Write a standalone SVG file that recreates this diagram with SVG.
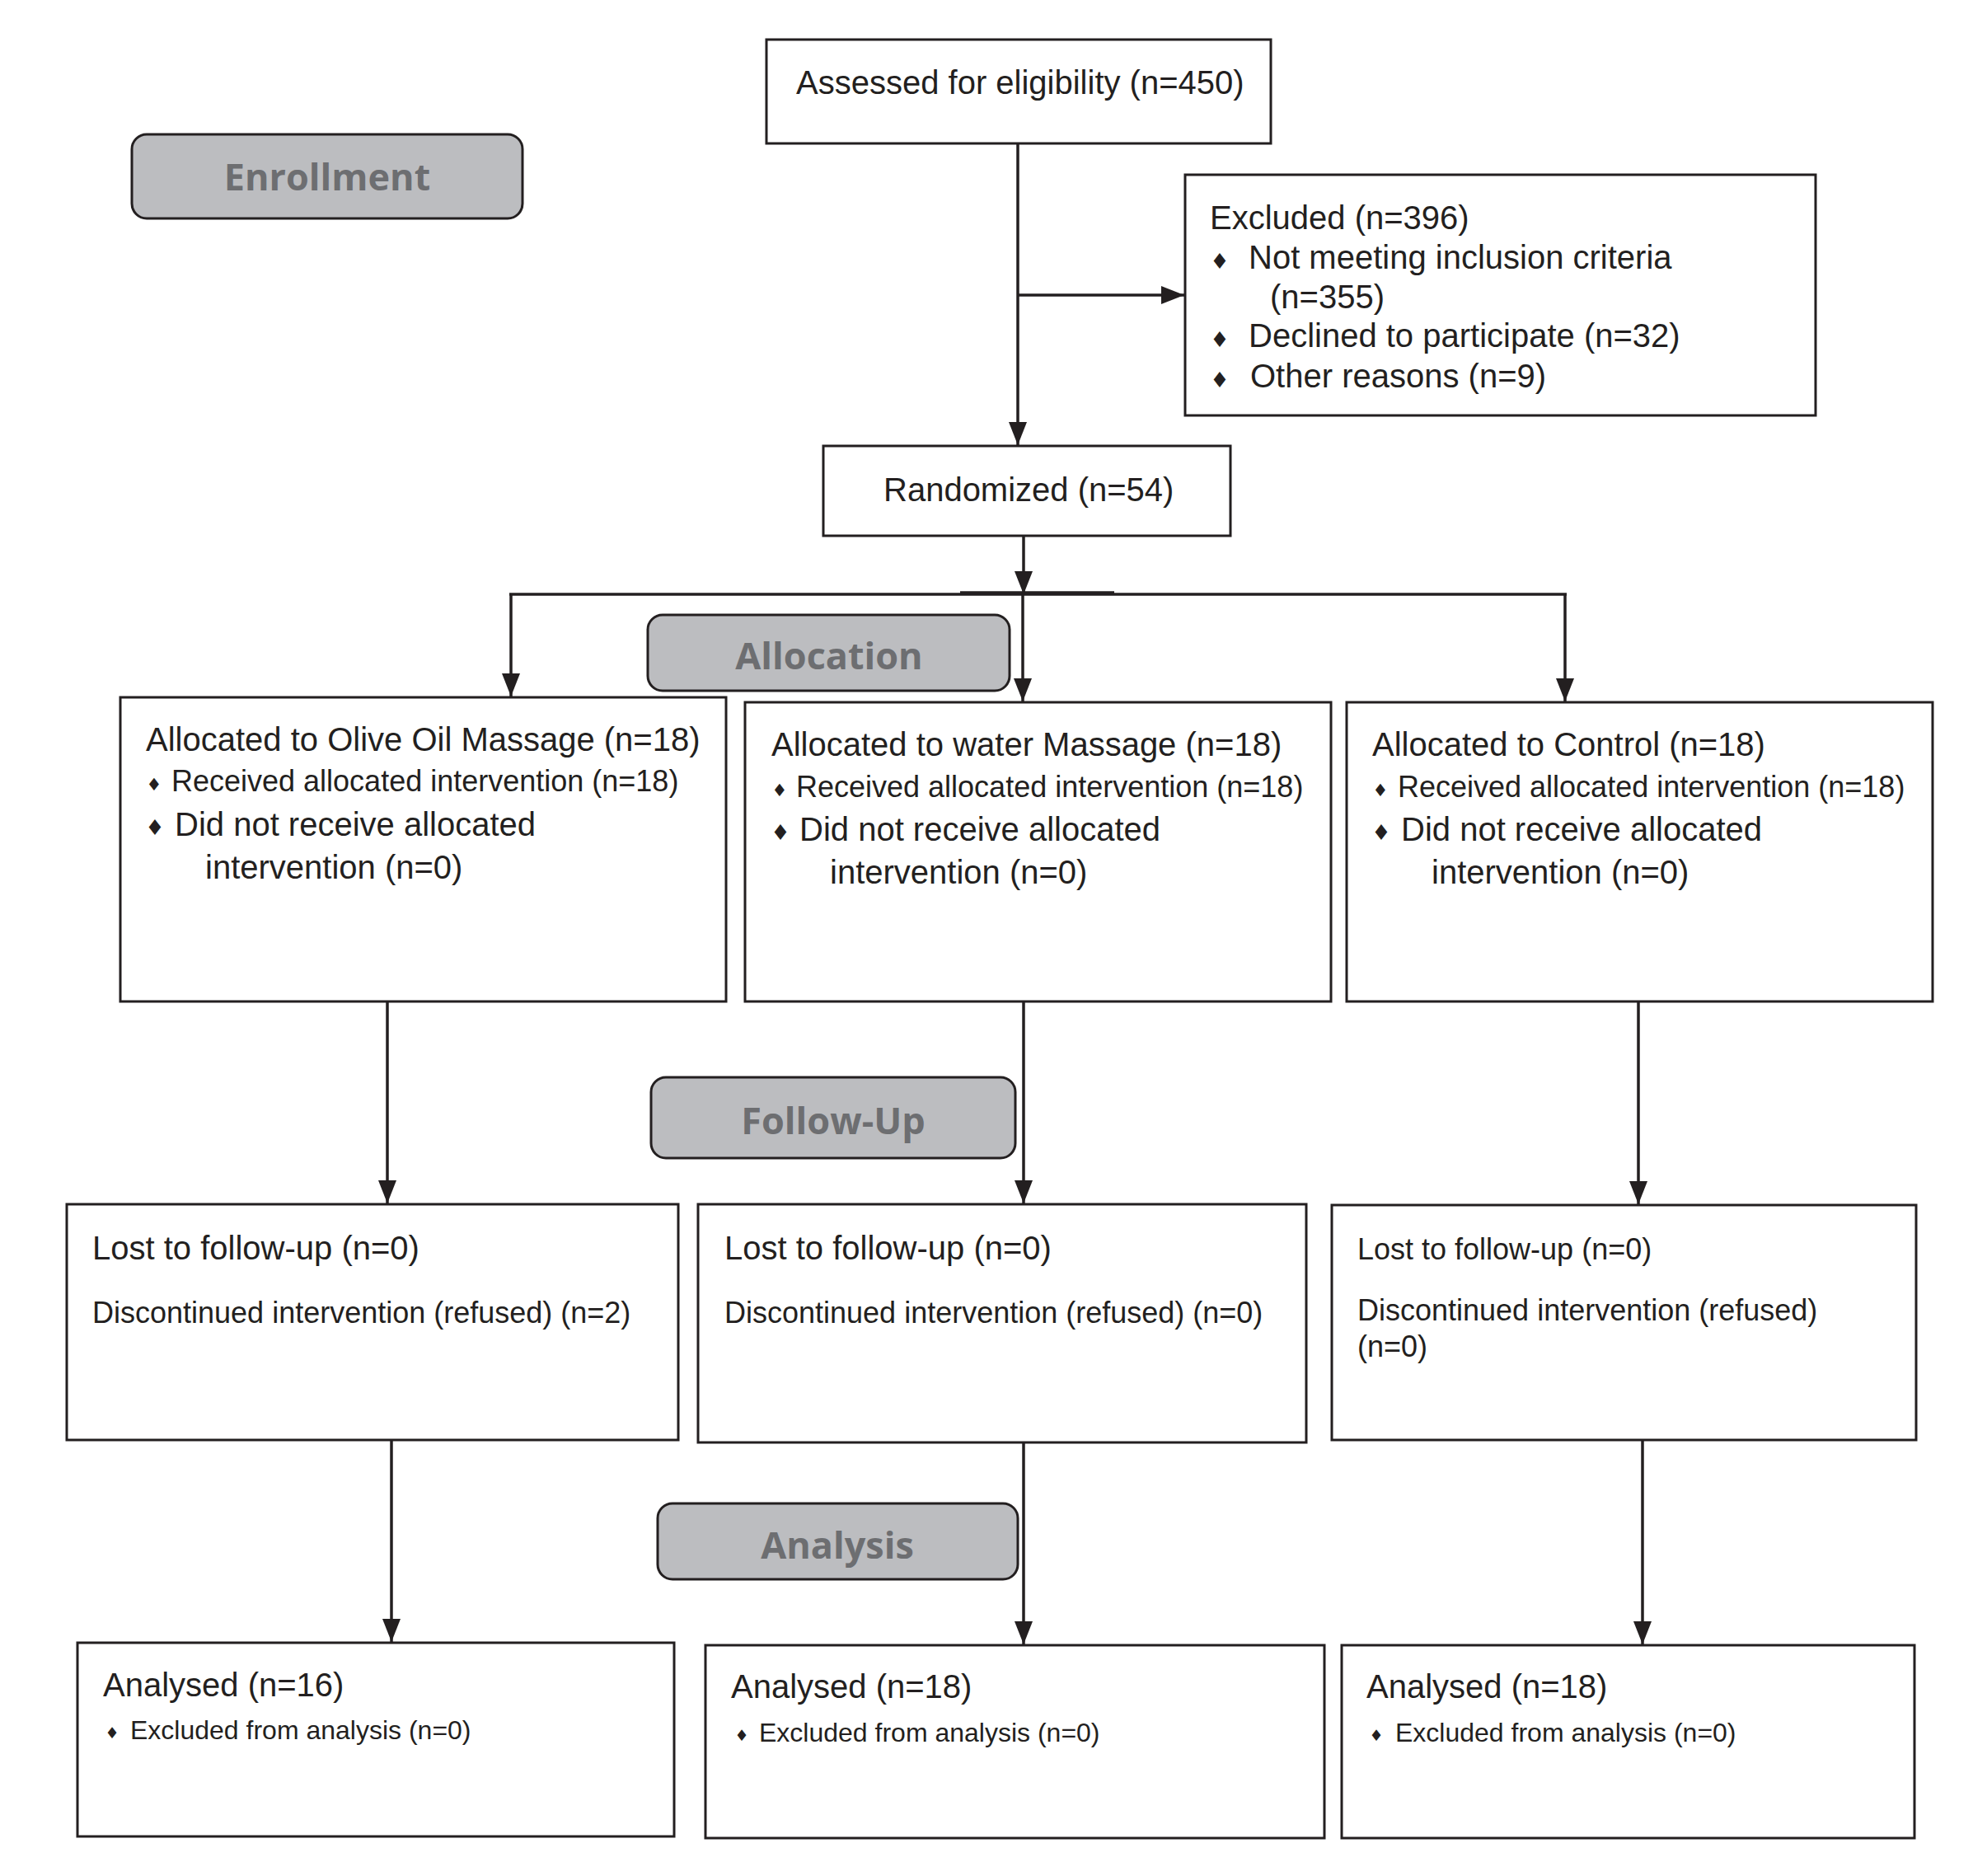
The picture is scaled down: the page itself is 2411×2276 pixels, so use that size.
<svg xmlns="http://www.w3.org/2000/svg" width="2411" height="2276" viewBox="0 0 2411 2276">
<defs>
<style>
.box{fill:#fff;stroke:#231f20;stroke-width:3}
.lbl{fill:#bcbdc0;stroke:#231f20;stroke-width:3}
.lt{font-family:"Open Sans","Noto Sans",sans-serif;font-weight:bold;font-size:45px;fill:#6d6e71;text-anchor:middle}
.t40{font-family:"Liberation Sans",Arial,sans-serif;font-size:40px;fill:#231f20}
.t36{font-family:"Liberation Sans",Arial,sans-serif;font-size:36px;fill:#231f20}
.t32{font-family:"Liberation Sans",Arial,sans-serif;font-size:32px;fill:#231f20}
.bl{font-family:"DejaVu Sans",sans-serif;fill:#231f20;text-anchor:middle}
.b1{font-size:26px}
.b2{font-size:21px}
.b3{font-size:19px}
.ln{stroke:#231f20;stroke-width:3.5;fill:none}
</style>
<marker id="ah" markerUnits="userSpaceOnUse" markerWidth="28" markerHeight="24" viewBox="0 0 28 24" refX="28" refY="11" orient="auto">
<path d="M0,0 L28,11 L0,22 Z" fill="#231f20"/>
</marker>
</defs>
<rect width="2411" height="2276" fill="#fff"/>

<g id="connectors">
<line class="ln" x1="1235" y1="174" x2="1235" y2="540" marker-end="url(#ah)"/>
<line class="ln" x1="1235" y1="358" x2="1437" y2="358" marker-end="url(#ah)"/>
<line class="ln" x1="1242" y1="650" x2="1242" y2="721" marker-end="url(#ah)"/>
<line class="ln" x1="618" y1="721" x2="1901" y2="721"/>
<line class="ln" x1="1165" y1="719" x2="1352" y2="719"/>
<line class="ln" x1="620" y1="721" x2="620" y2="845" marker-end="url(#ah)"/>
<line class="ln" x1="1241" y1="721" x2="1241" y2="851" marker-end="url(#ah)"/>
<line class="ln" x1="1899" y1="721" x2="1899" y2="851" marker-end="url(#ah)"/>
<line class="ln" x1="470" y1="1215" x2="470" y2="1460" marker-end="url(#ah)"/>
<line class="ln" x1="1242" y1="1215" x2="1242" y2="1460" marker-end="url(#ah)"/>
<line class="ln" x1="1988" y1="1215" x2="1988" y2="1461" marker-end="url(#ah)"/>
<line class="ln" x1="475" y1="1747" x2="475" y2="1992" marker-end="url(#ah)"/>
<line class="ln" x1="1242" y1="1750" x2="1242" y2="1995" marker-end="url(#ah)"/>
<line class="ln" x1="1993" y1="1747" x2="1993" y2="1995" marker-end="url(#ah)"/>
</g>

<g id="enrollment">
<rect class="lbl" x="160" y="163" width="474" height="102" rx="18"/>
<text class="lt" x="397" y="231">Enrollment</text>
</g>

<g id="assessed">
<rect class="box" x="930" y="48" width="612" height="126"/>
<text class="t40" x="966" y="114">Assessed for eligibility (n=450)</text>
</g>

<g id="excluded">
<rect class="box" x="1438" y="212" width="765" height="292"/>
<text class="t40" x="1468" y="278">Excluded (n=396)</text>
<text class="bl b1" x="1480" y="326">♦</text>
<text class="t40" x="1515" y="326">Not meeting inclusion criteria</text>
<text class="t40" x="1541" y="374">(n=355)</text>
<text class="bl b1" x="1480" y="421">♦</text>
<text class="t40" x="1515" y="421">Declined to participate (n=32)</text>
<text class="bl b1" x="1480" y="470">♦</text>
<text class="t40" x="1517" y="470">Other reasons (n=9)</text>
</g>

<g id="randomized">
<rect class="box" x="999" y="541" width="494" height="109"/>
<text class="t40" x="1072" y="608">Randomized (n=54)</text>
</g>

<g id="allocation">
<rect class="lbl" x="786" y="746" width="439" height="92" rx="18"/>
<text class="lt" x="1006" y="812">Allocation</text>
</g>

<g id="alloc-olive">
<rect class="box" x="146" y="846" width="735" height="369"/>
<text class="t40" x="177" y="911">Allocated to Olive Oil Massage (n=18)</text>
<text class="bl b2" x="187" y="959">♦</text>
<text class="t36" x="208" y="960">Received allocated intervention (n=18)</text>
<text class="bl b1" x="188" y="1013">♦</text>
<text class="t40" x="212" y="1014">Did not receive allocated</text>
<text class="t40" x="249" y="1066">intervention (n=0)</text>
</g>

<g id="alloc-water">
<rect class="box" x="904" y="852" width="711" height="363"/>
<text class="t40" x="936" y="917">Allocated to water Massage (n=18)</text>
<text class="bl b2" x="946" y="966">♦</text>
<text class="t36" x="966" y="967">Received allocated intervention (n=18)</text>
<text class="bl b1" x="947" y="1019">♦</text>
<text class="t40" x="970" y="1020">Did not receive allocated</text>
<text class="t40" x="1007" y="1072">intervention (n=0)</text>
</g>

<g id="alloc-control">
<rect class="box" x="1634" y="852" width="711" height="363"/>
<text class="t40" x="1665" y="917">Allocated to Control (n=18)</text>
<text class="bl b2" x="1675" y="966">♦</text>
<text class="t36" x="1696" y="967">Received allocated intervention (n=18)</text>
<text class="bl b1" x="1676" y="1019">♦</text>
<text class="t40" x="1700" y="1020">Did not receive allocated</text>
<text class="t40" x="1737" y="1072">intervention (n=0)</text>
</g>

<g id="followup">
<rect class="lbl" x="790" y="1307" width="442" height="98" rx="18"/>
<text class="lt" x="1011" y="1376">Follow-Up</text>
</g>

<g id="fu-olive">
<rect class="box" x="81" y="1461" width="742" height="286"/>
<text class="t40" x="112" y="1528">Lost to follow-up (n=0)</text>
<text class="t36" x="112" y="1605">Discontinued intervention (refused) (n=2)</text>
</g>

<g id="fu-water">
<rect class="box" x="847" y="1461" width="738" height="289"/>
<text class="t40" x="879" y="1528">Lost to follow-up (n=0)</text>
<text class="t36" x="879" y="1605">Discontinued intervention (refused) (n=0)</text>
</g>

<g id="fu-control">
<rect class="box" x="1616" y="1462" width="709" height="285"/>
<text class="t36" x="1647" y="1528">Lost to follow-up (n=0)</text>
<text class="t36" x="1647" y="1602">Discontinued intervention (refused)</text>
<text class="t36" x="1647" y="1646">(n=0)</text>
</g>

<g id="analysis">
<rect class="lbl" x="798" y="1824" width="437" height="92" rx="18"/>
<text class="lt" x="1016" y="1891">Analysis</text>
</g>

<g id="an-olive">
<rect class="box" x="94" y="1993" width="724" height="235"/>
<text class="t40" x="125" y="2058">Analysed (n=16)</text>
<text class="bl b3" x="136" y="2109">♦</text>
<text class="t32" x="158" y="2110">Excluded from analysis (n=0)</text>
</g>

<g id="an-water">
<rect class="box" x="856" y="1996" width="751" height="234"/>
<text class="t40" x="887" y="2060">Analysed (n=18)</text>
<text class="bl b3" x="900" y="2112">♦</text>
<text class="t32" x="921" y="2113">Excluded from analysis (n=0)</text>
</g>

<g id="an-control">
<rect class="box" x="1628" y="1996" width="695" height="234"/>
<text class="t40" x="1658" y="2060">Analysed (n=18)</text>
<text class="bl b3" x="1670" y="2112">♦</text>
<text class="t32" x="1693" y="2113">Excluded from analysis (n=0)</text>
</g>
</svg>
